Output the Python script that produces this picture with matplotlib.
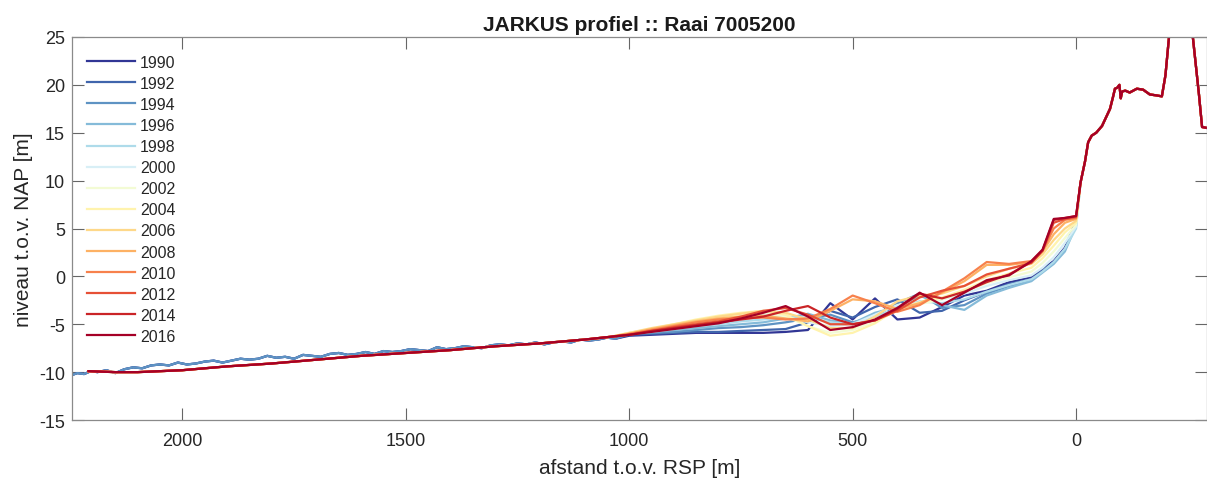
import matplotlib.pyplot as plt
import numpy as np

# JARKUS raai 7005200, hoogte t.o.v. NAP per jaar
years = [1990, 1992, 1994, 1996, 1998, 2000, 2002, 2004, 2006, 2008, 2010, 2012, 2014, 2016]

# zeebodem ver uit de kust: oudste jaren (ruwer, iets verder zeewaarts gemeten)
x_sea_old = [2247, 2235, 2220, 2205, 2190, 2170, 2150, 2130, 2110, 2090, 2070, 2050, 2030, 2010,
             1990, 1970, 1950, 1930, 1910, 1890, 1870, 1850, 1830, 1810, 1790, 1770, 1750, 1730,
             1710, 1690, 1670, 1650, 1630, 1610, 1590, 1570, 1550, 1530, 1510, 1490, 1470, 1450,
             1430, 1410, 1390, 1370, 1350, 1330, 1310, 1290, 1270, 1250, 1230, 1210, 1190, 1170,
             1150, 1130, 1110, 1090, 1070, 1050, 1030]
z_sea_old = [-10.3, -10.1, -10.2, -9.9, -10.0, -9.8, -10.1, -9.7, -9.5, -9.6, -9.3, -9.2, -9.3, -9.0,
             -9.2, -9.1, -8.9, -8.8, -9.0, -8.8, -8.6, -8.7, -8.6, -8.3, -8.5, -8.4, -8.6, -8.2,
             -8.3, -8.4, -8.1, -8.0, -8.2, -8.1, -7.9, -8.1, -7.8, -7.9, -7.8, -7.6, -7.7, -7.8,
             -7.4, -7.6, -7.5, -7.3, -7.4, -7.5, -7.2, -7.1, -7.2, -7.0, -7.1, -6.9, -7.1, -6.9,
             -6.8, -6.9, -6.6, -6.7, -6.6, -6.4, -6.5]

# zeebodem ver uit de kust: latere jaren (glad)
x_sea_new = [2210, 2150, 2100, 2050, 2000, 1950, 1900, 1800, 1700, 1600, 1500, 1400, 1300, 1200, 1100, 1040]
z_sea_new = [-9.9, -10.0, -10.0, -9.9, -9.8, -9.6, -9.4, -9.1, -8.7, -8.3, -8.0, -7.7, -7.3, -7.0, -6.6, -6.3]

# vooroever met brekerbanken, per jaar
x_near = [1000, 950, 900, 850, 800, 750, 700, 650, 600, 550, 500, 450, 400, 350, 300, 250, 200, 150, 100, 75, 50, 25, 0]
z_1990 = [-6.2, -6.1, -6.0, -5.9, -5.9, -5.9, -5.9, -5.8, -5.6, -2.8, -4.5, -2.3, -4.5, -4.3, -3.2, -2.0, -1.5, -0.6, -0.1, 0.8, 1.6, 3.0, 5.8]
z_1992 = [-6.1, -6.0, -5.9, -5.8, -5.8, -5.7, -5.6, -5.5, -4.8, -3.6, -4.3, -3.2, -2.4, -3.8, -3.6, -2.5, -1.6, -0.8, -0.3, 0.6, 1.5, 2.8, 5.6]
z_1994 = [-6.0, -5.9, -5.8, -5.6, -5.4, -5.3, -5.1, -4.8, -4.4, -4.0, -4.8, -4.2, -2.8, -1.8, -3.3, -3.0, -1.8, -1.0, -0.4, 0.5, 1.4, 2.8, 5.5]
z_1996 = [-6.0, -5.8, -5.6, -5.4, -5.2, -5.0, -4.8, -4.4, -3.9, -4.6, -4.9, -3.8, -3.2, -2.0, -3.0, -3.5, -2.0, -1.2, -0.5, 0.4, 1.3, 2.6, 5.3]
z_1998 = [-6.0, -5.8, -5.5, -5.2, -5.0, -4.7, -4.5, -4.2, -4.3, -4.8, -5.0, -4.2, -3.4, -2.6, -2.8, -2.4, -1.6, -0.9, -0.3, 0.5, 1.5, 2.9, 5.0]
z_2000 = [-6.0, -5.7, -5.3, -5.0, -4.6, -4.3, -4.0, -4.2, -4.8, -5.2, -5.0, -4.0, -3.0, -2.8, -2.4, -1.8, -1.0, -0.4, 0.1, 0.9, 2.0, 3.5, 5.2]
z_2002 = [-5.9, -5.6, -5.2, -4.8, -4.4, -4.0, -3.8, -4.2, -5.2, -5.9, -5.6, -4.7, -3.6, -2.9, -2.4, -1.6, -0.7, -0.1, 0.5, 1.4, 2.6, 4.0, 5.4]
z_2004 = [-5.9, -5.5, -5.0, -4.5, -4.1, -3.8, -3.6, -4.0, -5.2, -6.2, -5.9, -4.9, -3.4, -2.7, -2.2, -1.4, -0.4, 0.3, 0.9, 1.9, 3.2, 4.6, 5.6]
z_2006 = [-5.9, -5.4, -5.0, -4.6, -4.2, -3.9, -3.6, -3.8, -4.5, -5.4, -5.4, -4.2, -2.6, -2.0, -1.8, -1.0, 0.0, 0.8, 1.3, 2.3, 3.8, 5.0, 5.8]
z_2008 = [-6.0, -5.5, -5.1, -4.7, -4.4, -4.2, -4.1, -4.4, -4.7, -3.6, -2.4, -2.6, -3.4, -2.8, -1.7, -0.5, 1.2, 1.2, 1.5, 2.6, 4.4, 5.6, 6.0]
z_2010 = [-6.0, -5.6, -5.2, -4.8, -4.5, -4.4, -4.3, -4.5, -4.4, -3.4, -2.0, -2.8, -3.7, -3.0, -1.6, -0.2, 1.5, 1.3, 1.6, 2.7, 5.0, 5.9, 6.1]
z_2012 = [-6.1, -5.7, -5.3, -5.0, -4.7, -4.2, -3.6, -3.3, -4.0, -5.0, -5.0, -4.6, -3.6, -2.2, -1.5, -1.0, 0.2, 0.8, 1.4, 2.7, 5.6, 6.0, 6.2]
z_2014 = [-6.1, -5.7, -5.4, -5.1, -4.8, -4.5, -4.2, -3.6, -3.1, -4.3, -5.0, -4.6, -3.4, -1.8, -2.3, -1.6, -0.6, 0.2, 1.5, 2.7, 5.9, 6.1, 6.3]
z_2016 = [-6.1, -5.8, -5.5, -5.2, -4.9, -4.4, -3.8, -3.1, -4.2, -5.6, -5.3, -4.5, -3.3, -1.7, -3.0, -1.7, -0.4, 0.1, 1.6, 2.8, 6.0, 6.1, 6.3]

# duinfront en duin (voor alle jaren vrijwel gelijk)
x_dune = [-10, -20, -27, -35, -45, -58, -68, -76, -83, -87, -92, -97, -100, -103, -110, -120, -136,
          -150, -165, -180, -192, -200, -210, -235, -259, -275, -282, -293]
z_dune = [9.8, 12.0, 14.0, 14.7, 15.0, 15.7, 16.7, 17.5, 18.8, 19.6, 19.7, 20.0, 18.6, 19.3, 19.4,
          19.2, 19.6, 19.5, 19.0, 18.9, 18.8, 21.0, 26.0, 31.0, 26.0, 19.0, 15.6, 15.5]

near = [z_1990, z_1992, z_1994, z_1996, z_1998, z_2000, z_2002,
        z_2004, z_2006, z_2008, z_2010, z_2012, z_2014, z_2016]

plt.rcParams['font.family'] = ['Liberation Sans', 'DejaVu Sans']
plt.rcParams['axes.unicode_minus'] = False

fig = plt.figure(figsize=(12.07, 4.81), dpi=100)
ax = fig.add_axes([72 / 1207, 60 / 481, 1135 / 1207, 383 / 481])

colors = plt.cm.RdYlBu_r(np.linspace(0, 1, len(years)))

for i, yr in enumerate(years):
    if yr <= 1994:
        xs, zs = x_sea_old, z_sea_old
    else:
        xs, zs = x_sea_new, z_sea_new
    x = xs + x_near + x_dune
    z = zs + near[i] + z_dune
    ax.plot(x, z, color=colors[i], lw=1.6, label=str(yr))

ax.set_xlim(2247, -293)
ax.set_ylim(-15, 25)
ax.set_xticks([2000, 1500, 1000, 500, 0])
ax.set_yticks(range(-15, 30, 5))

ax.tick_params(direction='in', length=8.5, width=0.8, top=True, right=True,
               labelsize=13, colors='#666666', labelcolor='#262626')
ax.tick_params(axis='x', pad=9)
ax.tick_params(axis='y', pad=5)
for s in ax.spines.values():
    s.set_color('#8a8a8a')
    s.set_linewidth(0.9)

ax.set_title('JARKUS profiel :: Raai 7005200', fontsize=15, fontweight='bold', color='#1a1a1a', pad=5)
ax.set_xlabel('afstand t.o.v. RSP [m]', fontsize=15, color='#262626', labelpad=6)
ax.set_ylabel('niveau t.o.v. NAP [m]', fontsize=15, color='#262626', labelpad=4)

leg = ax.legend(loc='upper left', bbox_to_anchor=(0.008, 0.97), frameon=False, fontsize=11.5,
                handlelength=3.0, handletextpad=0.3, labelspacing=0.38, borderaxespad=0)
for t in leg.get_texts():
    t.set_color('#262626')

fig.savefig('out.png', dpi=100)
